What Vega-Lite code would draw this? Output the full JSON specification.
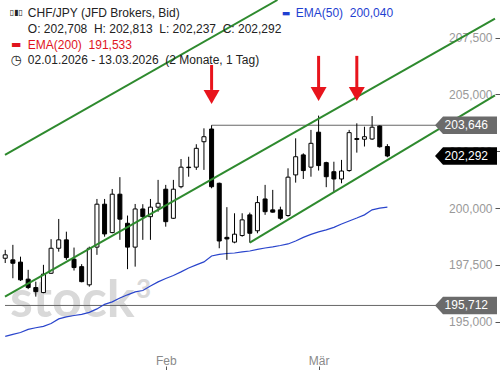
{
  "$schema": "https://vega.github.io/schema/vega-lite/v6.json",
  "width": 500,
  "height": 370,
  "padding": 0,
  "autosize": {"type": "none"},
  "background": "white",
  "config": {
    "view": {"stroke": null},
    "font": "Liberation Sans",
    "locale": {"number": {"decimal": ",", "thousands": ".", "grouping": [3], "currency": ["", "€"]}}
  },
  "datasets": {
    "candles": [
      {"i": 0, "date": "2026-01-02", "o": 197.79, "h": 198.16, "l": 197.58, "c": 197.94, "ema50": 194.35},
      {"i": 1, "date": "2026-01-05", "o": 197.72, "h": 198.38, "l": 196.91, "c": 197.57, "ema50": 194.44},
      {"i": 2, "date": "2026-01-06", "o": 197.62, "h": 197.86, "l": 196.79, "c": 196.84, "ema50": 194.52},
      {"i": 3, "date": "2026-01-07", "o": 196.87, "h": 197.28, "l": 196.43, "c": 196.50, "ema50": 194.66},
      {"i": 4, "date": "2026-01-08", "o": 196.50, "h": 196.76, "l": 196.10, "c": 196.32, "ema50": 194.73},
      {"i": 5, "date": "2026-01-09", "o": 196.28, "h": 197.50, "l": 196.25, "c": 197.09, "ema50": 194.79},
      {"i": 6, "date": "2026-01-12", "o": 197.13, "h": 198.63, "l": 197.10, "c": 198.23, "ema50": 194.92},
      {"i": 7, "date": "2026-01-13", "o": 198.23, "h": 199.52, "l": 198.08, "c": 198.60, "ema50": 195.12},
      {"i": 8, "date": "2026-01-14", "o": 198.60, "h": 198.96, "l": 197.72, "c": 197.82, "ema50": 195.21},
      {"i": 9, "date": "2026-01-15", "o": 197.75, "h": 198.26, "l": 197.25, "c": 197.38, "ema50": 195.27},
      {"i": 10, "date": "2026-01-16", "o": 197.42, "h": 197.53, "l": 196.73, "c": 196.76, "ema50": 195.32},
      {"i": 11, "date": "2026-01-19", "o": 196.62, "h": 198.30, "l": 196.54, "c": 198.23, "ema50": 195.41},
      {"i": 12, "date": "2026-01-20", "o": 198.28, "h": 200.40, "l": 197.94, "c": 200.17, "ema50": 195.56},
      {"i": 13, "date": "2026-01-21", "o": 200.17, "h": 200.40, "l": 198.74, "c": 198.86, "ema50": 195.76},
      {"i": 14, "date": "2026-01-22", "o": 198.92, "h": 200.84, "l": 198.89, "c": 200.61, "ema50": 195.87},
      {"i": 15, "date": "2026-01-23", "o": 200.61, "h": 201.36, "l": 198.60, "c": 199.51, "ema50": 196.04},
      {"i": 16, "date": "2026-01-26", "o": 199.33, "h": 199.67, "l": 197.31, "c": 198.28, "ema50": 196.18},
      {"i": 17, "date": "2026-01-27", "o": 198.28, "h": 200.18, "l": 197.42, "c": 199.96, "ema50": 196.31},
      {"i": 18, "date": "2026-01-28", "o": 199.96, "h": 200.17, "l": 198.60, "c": 199.62, "ema50": 196.37},
      {"i": 19, "date": "2026-01-29", "o": 199.62, "h": 200.40, "l": 198.60, "c": 200.04, "ema50": 196.57},
      {"i": 20, "date": "2026-01-30", "o": 200.04, "h": 201.24, "l": 199.84, "c": 200.21, "ema50": 196.75},
      {"i": 21, "date": "2026-02-02", "o": 200.83, "h": 201.02, "l": 199.18, "c": 199.40, "ema50": 196.90},
      {"i": 22, "date": "2026-02-03", "o": 199.55, "h": 201.24, "l": 199.52, "c": 200.83, "ema50": 197.03},
      {"i": 23, "date": "2026-02-04", "o": 200.94, "h": 202.16, "l": 200.87, "c": 201.80, "ema50": 197.19},
      {"i": 24, "date": "2026-02-05", "o": 201.80, "h": 202.26, "l": 201.38, "c": 201.78, "ema50": 197.36},
      {"i": 25, "date": "2026-02-06", "o": 201.80, "h": 202.81, "l": 201.68, "c": 202.63, "ema50": 197.50},
      {"i": 26, "date": "2026-02-09", "o": 202.92, "h": 203.51, "l": 201.68, "c": 203.14, "ema50": 197.63},
      {"i": 27, "date": "2026-02-10", "o": 203.48, "h": 203.646, "l": 200.87, "c": 200.94, "ema50": 197.89},
      {"i": 28, "date": "2026-02-11", "o": 201.09, "h": 201.12, "l": 198.23, "c": 198.55, "ema50": 197.96},
      {"i": 29, "date": "2026-02-12", "o": 198.71, "h": 200.04, "l": 197.72, "c": 198.64, "ema50": 198.00},
      {"i": 30, "date": "2026-02-13", "o": 198.50, "h": 199.77, "l": 198.45, "c": 198.85, "ema50": 198.02},
      {"i": 31, "date": "2026-02-16", "o": 198.79, "h": 199.77, "l": 198.74, "c": 199.48, "ema50": 198.07},
      {"i": 32, "date": "2026-02-17", "o": 199.70, "h": 199.80, "l": 198.477, "c": 198.89, "ema50": 198.11},
      {"i": 33, "date": "2026-02-18", "o": 199.00, "h": 200.53, "l": 198.89, "c": 200.24, "ema50": 198.18},
      {"i": 34, "date": "2026-02-19", "o": 200.40, "h": 201.02, "l": 199.70, "c": 199.84, "ema50": 198.24},
      {"i": 35, "date": "2026-02-20", "o": 199.92, "h": 200.80, "l": 199.80, "c": 199.82, "ema50": 198.29},
      {"i": 36, "date": "2026-02-23", "o": 199.92, "h": 200.06, "l": 199.48, "c": 199.55, "ema50": 198.35},
      {"i": 37, "date": "2026-02-24", "o": 199.67, "h": 201.75, "l": 199.62, "c": 201.36, "ema50": 198.42},
      {"i": 38, "date": "2026-02-25", "o": 201.46, "h": 203.07, "l": 201.12, "c": 202.26, "ema50": 198.55},
      {"i": 39, "date": "2026-02-26", "o": 202.34, "h": 202.41, "l": 201.28, "c": 201.65, "ema50": 198.71},
      {"i": 40, "date": "2026-02-27", "o": 201.80, "h": 203.44, "l": 201.38, "c": 202.85, "ema50": 198.84},
      {"i": 41, "date": "2026-03-02", "o": 203.34, "h": 204.07, "l": 201.65, "c": 201.87, "ema50": 198.95},
      {"i": 42, "date": "2026-03-03", "o": 202.00, "h": 202.04, "l": 200.92, "c": 201.38, "ema50": 199.04},
      {"i": 43, "date": "2026-03-04", "o": 201.60, "h": 202.04, "l": 200.68, "c": 201.28, "ema50": 199.15},
      {"i": 44, "date": "2026-03-05", "o": 201.28, "h": 202.12, "l": 201.09, "c": 201.63, "ema50": 199.30},
      {"i": 45, "date": "2026-03-06", "o": 201.65, "h": 203.44, "l": 201.60, "c": 203.32, "ema50": 199.43},
      {"i": 46, "date": "2026-03-09", "o": 203.06, "h": 203.73, "l": 202.44, "c": 203.02, "ema50": 199.56},
      {"i": 47, "date": "2026-03-10", "o": 203.03, "h": 203.58, "l": 202.71, "c": 203.14, "ema50": 199.70},
      {"i": 48, "date": "2026-03-11", "o": 203.04, "h": 204.05, "l": 203.00, "c": 203.56, "ema50": 199.92},
      {"i": 49, "date": "2026-03-12", "o": 203.61, "h": 203.64, "l": 202.66, "c": 202.70, "ema50": 200.00},
      {"i": 50, "date": "2026-03-13", "o": 202.708, "h": 202.813, "l": 202.237, "c": 202.292, "ema50": 200.04}
    ],
    "trendlines": [
      {"name": "upper", "x1": -0.03, "p1": 202.34, "x2": 35.62, "p2": 209.16},
      {"name": "middle", "x1": -0.03, "p1": 196.10, "x2": 64.08, "p2": 208.34},
      {"name": "lower", "x1": 32, "p1": 198.477, "x2": 64.08, "p2": 204.96}
    ],
    "levels": [
      {"p": 203.646, "from": 27, "to": 64.08},
      {"p": 195.712, "from": -0.03, "to": 64.08}
    ],
    "tags": [
      {"p": 203.646, "kind": "level"},
      {"p": 202.292, "kind": "last"},
      {"p": 195.712, "kind": "level"}
    ],
    "arrows": [
      {"i": 27, "top": 206.30, "base": 205.2, "tip": 204.58},
      {"i": 41, "top": 206.70, "base": 205.3, "tip": 204.71},
      {"i": 46, "top": 206.70, "base": 205.3, "tip": 204.71}
    ]
  },
  "layer": [
    {
      "data": {"values": [{"t": "stock"}]},
      "mark": {"type": "text", "align": "left", "baseline": "alphabetic", "fontSize": 52, "font": "Lato", "fontWeight": "bold", "color": "#d9d9d9"},
      "encoding": {
        "x": {"datum": 0.61, "type": "quantitative", "scale": {"domain": [-0.03, 64.08], "nice": false, "zero": false}},
        "y": {"datum": 195.22, "type": "quantitative", "scale": {"domain": [192.87, 209.16], "nice": false, "zero": false}},
        "text": {"field": "t"}
      }
    },
    {
      "data": {"values": [{"t": "3"}]},
      "mark": {"type": "text", "align": "left", "baseline": "alphabetic", "fontSize": 26, "font": "Lato", "fontWeight": "bold", "color": "#d9d9d9"},
      "encoding": {
        "x": {"datum": 17.1, "type": "quantitative", "scale": {"domain": [-0.03, 64.08], "nice": false, "zero": false}},
        "y": {"datum": 196.04, "type": "quantitative", "scale": {"domain": [192.87, 209.16], "nice": false, "zero": false}},
        "text": {"field": "t"}
      }
    },
    {
      "data": {"name": "levels"},
      "mark": {"type": "rule", "color": "#666666", "strokeWidth": 1},
      "encoding": {
        "x": {"field": "from", "type": "quantitative", "scale": {"domain": [-0.03, 64.08], "nice": false, "zero": false}},
        "x2": {"field": "to"},
        "y": {"field": "p", "type": "quantitative", "scale": {"domain": [192.87, 209.16], "nice": false, "zero": false}}
      }
    },
    {
      "data": {"name": "candles"},
      "mark": {"type": "line", "color": "#2a45cc", "strokeWidth": 1.2, "clip": true},
      "encoding": {
        "x": {"field": "i", "type": "quantitative", "scale": {"domain": [-0.03, 64.08], "nice": false, "zero": false}},
        "y": {"field": "ema50", "type": "quantitative", "scale": {"domain": [192.87, 209.16], "nice": false, "zero": false}}
      }
    },
    {
      "data": {"name": "candles"},
      "mark": {"type": "rule", "color": "#000000", "strokeWidth": 1, "clip": true},
      "encoding": {
        "x": {"field": "i", "type": "quantitative", "scale": {"domain": [-0.03, 64.08], "nice": false, "zero": false},
          "axis": {"orient": "bottom", "values": [21, 41], "labelExpr": "datum.value == 21 ? 'Feb' : 'Mär'", "domain": false, "grid": false, "ticks": true, "tickSize": -4, "tickColor": "#555555", "labelColor": "#8a8a8a", "labelFontSize": 12, "labelFont": "Liberation Sans", "labelPadding": -2, "labelBaseline": "alphabetic", "title": null}},
        "y": {"field": "l", "type": "quantitative", "scale": {"domain": [192.87, 209.16], "nice": false, "zero": false},
          "axis": {"orient": "right", "values": [195, 197.5, 200, 202.5, 205, 207.5], "format": ".3f", "domain": false, "grid": false, "ticks": true, "tickSize": -5, "tickColor": "#555555", "labelAlign": "right", "labelPadding": -3, "labelColor": "#999999", "labelFontSize": 12, "labelFont": "Liberation Sans", "title": null}},
        "y2": {"field": "h"}
      }
    },
    {
      "data": {"name": "candles"},
      "mark": {"type": "bar", "width": 4, "stroke": "#000000", "strokeWidth": 1, "clip": true},
      "encoding": {
        "x": {"field": "i", "type": "quantitative", "scale": {"domain": [-0.03, 64.08], "nice": false, "zero": false}},
        "y": {"field": "o", "type": "quantitative", "scale": {"domain": [192.87, 209.16], "nice": false, "zero": false}},
        "y2": {"field": "c"},
        "fill": {"condition": {"test": "datum.c < datum.o", "value": "#000000"}, "value": "#ffffff"}
      }
    },
    {
      "data": {"name": "trendlines"},
      "mark": {"type": "rule", "color": "#2e8a2e", "strokeWidth": 2, "clip": true},
      "encoding": {
        "x": {"field": "x1", "type": "quantitative", "scale": {"domain": [-0.03, 64.08], "nice": false, "zero": false}},
        "x2": {"field": "x2"},
        "y": {"field": "p1", "type": "quantitative", "scale": {"domain": [192.87, 209.16], "nice": false, "zero": false}},
        "y2": {"field": "p2"}
      }
    },
    {
      "data": {"name": "arrows"},
      "mark": {"type": "rule", "color": "#e8141c", "strokeWidth": 3},
      "encoding": {
        "x": {"field": "i", "type": "quantitative", "scale": {"domain": [-0.03, 64.08], "nice": false, "zero": false}},
        "y": {"field": "top", "type": "quantitative", "scale": {"domain": [192.87, 209.16], "nice": false, "zero": false}},
        "y2": {"field": "base"}
      }
    },
    {
      "data": {"name": "arrows"},
      "mark": {"type": "point", "shape": "M-2,-3.5L2,-3.5L0,0Z", "size": 64, "filled": true, "color": "#e8141c", "opacity": 1, "strokeWidth": 0},
      "encoding": {
        "x": {"field": "i", "type": "quantitative", "scale": {"domain": [-0.03, 64.08], "nice": false, "zero": false}},
        "y": {"field": "tip", "type": "quantitative", "scale": {"domain": [192.87, 209.16], "nice": false, "zero": false}}
      }
    },
    {
      "data": {"name": "tags"},
      "mark": {"type": "point", "shape": "M-6,0L-5.2,-0.88L0.2,-0.88L0.2,0.88L-5.2,0.88Z", "size": 400, "filled": true, "opacity": 1, "strokeWidth": 0},
      "encoding": {
        "x": {"datum": 64.08, "type": "quantitative", "scale": {"domain": [-0.03, 64.08], "nice": false, "zero": false}},
        "y": {"field": "p", "type": "quantitative", "scale": {"domain": [192.87, 209.16], "nice": false, "zero": false}},
        "color": {"condition": {"test": "datum.kind == 'last'", "value": "#000000"}, "value": "#6b6b6b"}
      }
    },
    {
      "data": {"name": "tags"},
      "mark": {"type": "text", "align": "right", "baseline": "middle", "dx": -7, "fontSize": 12, "color": "#ffffff"},
      "encoding": {
        "x": {"datum": 64.08, "type": "quantitative", "scale": {"domain": [-0.03, 64.08], "nice": false, "zero": false}},
        "y": {"field": "p", "type": "quantitative", "scale": {"domain": [192.87, 209.16], "nice": false, "zero": false}},
        "text": {"field": "p", "type": "quantitative", "format": ".3f"}
      }
    },
    {
      "data": {"values": [{"t": "CHF/JPY (JFD Brokers, Bid)"}]},
      "mark": {"type": "text", "align": "left", "baseline": "alphabetic", "fontSize": 12, "color": "#222222"},
      "encoding": {
        "x": {"datum": 2.96, "type": "quantitative", "scale": {"domain": [-0.03, 64.08], "nice": false, "zero": false}},
        "y": {"datum": 208.40, "type": "quantitative", "scale": {"domain": [192.87, 209.16], "nice": false, "zero": false}},
        "text": {"field": "t"}
      }
    },
    {
      "data": {"values": [{"t": "O: 202,708 \u00a0H: 202,813 \u00a0L: 202,237 \u00a0C: 202,292"}]},
      "mark": {"type": "text", "align": "left", "baseline": "alphabetic", "fontSize": 12, "color": "#222222"},
      "encoding": {
        "x": {"datum": 2.96, "type": "quantitative", "scale": {"domain": [-0.03, 64.08], "nice": false, "zero": false}},
        "y": {"datum": 207.71, "type": "quantitative", "scale": {"domain": [192.87, 209.16], "nice": false, "zero": false}},
        "text": {"field": "t"}
      }
    },
    {
      "data": {"values": [{"t": "EMA(200) \u00a0191,533"}]},
      "mark": {"type": "text", "align": "left", "baseline": "alphabetic", "fontSize": 12, "color": "#e0141e"},
      "encoding": {
        "x": {"datum": 2.96, "type": "quantitative", "scale": {"domain": [-0.03, 64.08], "nice": false, "zero": false}},
        "y": {"datum": 207.02, "type": "quantitative", "scale": {"domain": [192.87, 209.16], "nice": false, "zero": false}},
        "text": {"field": "t"}
      }
    },
    {
      "data": {"values": [{"t": "02.01.2026 - 13.03.2026 \u00a0(2 Monate, 1 Tag)"}]},
      "mark": {"type": "text", "align": "left", "baseline": "alphabetic", "fontSize": 12, "color": "#222222"},
      "encoding": {
        "x": {"datum": 2.96, "type": "quantitative", "scale": {"domain": [-0.03, 64.08], "nice": false, "zero": false}},
        "y": {"datum": 206.33, "type": "quantitative", "scale": {"domain": [192.87, 209.16], "nice": false, "zero": false}},
        "text": {"field": "t"}
      }
    },
    {
      "data": {"values": [{"t": "▯▮▯"}]},
      "mark": {"type": "text", "align": "center", "baseline": "middle", "fontSize": 8, "font": "DejaVu Sans", "color": "#222222"},
      "encoding": {
        "x": {"datum": 1.44, "type": "quantitative", "scale": {"domain": [-0.03, 64.08], "nice": false, "zero": false}},
        "y": {"datum": 208.6, "type": "quantitative", "scale": {"domain": [192.87, 209.16], "nice": false, "zero": false}},
        "text": {"field": "t"}
      }
    },
    {
      "data": {"values": [{"t": "▬"}]},
      "mark": {"type": "text", "align": "center", "baseline": "middle", "fontSize": 11, "font": "DejaVu Sans", "color": "#e0141e"},
      "encoding": {
        "x": {"datum": 1.44, "type": "quantitative", "scale": {"domain": [-0.03, 64.08], "nice": false, "zero": false}},
        "y": {"datum": 207.2, "type": "quantitative", "scale": {"domain": [192.87, 209.16], "nice": false, "zero": false}},
        "text": {"field": "t"}
      }
    },
    {
      "data": {"values": [{"t": "◷"}]},
      "mark": {"type": "text", "align": "center", "baseline": "middle", "fontSize": 13, "font": "DejaVu Sans", "color": "#222222"},
      "encoding": {
        "x": {"datum": 1.44, "type": "quantitative", "scale": {"domain": [-0.03, 64.08], "nice": false, "zero": false}},
        "y": {"datum": 206.52, "type": "quantitative", "scale": {"domain": [192.87, 209.16], "nice": false, "zero": false}},
        "text": {"field": "t"}
      }
    },
    {
      "data": {"values": [{"t": "▬"}]},
      "mark": {"type": "text", "align": "center", "baseline": "middle", "fontSize": 9, "font": "DejaVu Sans", "color": "#1f3fd1"},
      "encoding": {
        "x": {"datum": 36.73, "type": "quantitative", "scale": {"domain": [-0.03, 64.08], "nice": false, "zero": false}},
        "y": {"datum": 208.57, "type": "quantitative", "scale": {"domain": [192.87, 209.16], "nice": false, "zero": false}},
        "text": {"field": "t"}
      }
    },
    {
      "data": {"values": [{"t": "EMA(50) \u00a0200,040"}]},
      "mark": {"type": "text", "align": "left", "baseline": "alphabetic", "fontSize": 12, "color": "#1f3fd1"},
      "encoding": {
        "x": {"datum": 38.01, "type": "quantitative", "scale": {"domain": [-0.03, 64.08], "nice": false, "zero": false}},
        "y": {"datum": 208.43, "type": "quantitative", "scale": {"domain": [192.87, 209.16], "nice": false, "zero": false}},
        "text": {"field": "t"}
      }
    }
  ]
}
